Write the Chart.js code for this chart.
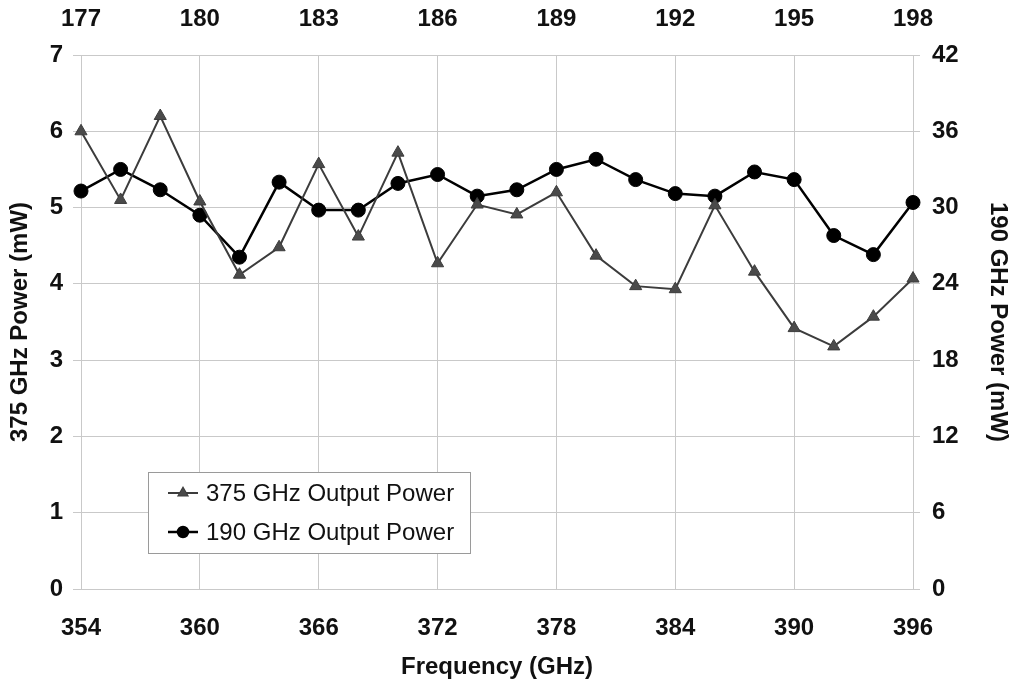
<!DOCTYPE html>
<html>
<head>
<meta charset="utf-8">
<script src="https://cdn.jsdelivr.net/npm/chart.js@4"></script>
<style>
    body { margin: 0; background: #fff; }
    #wrap { width: 1014px; height: 688px; }
</style>
</head>
<body>
<div id="wrap"><canvas id="powerChart" width="1014" height="688"></canvas></div>
<script>
// bottom axis: 375 GHz output frequency, top axis: 190 GHz drive frequency
const freq375 = [354, 356, 358, 360, 362, 364, 366, 368, 370, 372, 374, 376, 378, 380, 382, 384, 386, 388, 390, 392, 394, 396];
const power375 = [6.0, 5.1, 6.2, 5.08, 4.12, 4.48, 5.57, 4.62, 5.72, 4.27, 5.04, 4.91, 5.2, 4.37, 3.97, 3.93, 5.03, 4.16, 3.42, 3.18, 3.57, 4.07];

const freq190 = [177, 178, 179, 180, 181, 182, 183, 184, 185, 186, 187, 188, 189, 190, 191, 192, 193, 194, 195, 196, 197, 198];
const power190 = [31.3, 33.0, 31.4, 29.4, 26.1, 32.0, 29.8, 29.8, 31.9, 32.6, 30.9, 31.4, 33.0, 33.8, 32.2, 31.1, 30.9, 32.8, 32.2, 27.8, 26.3, 30.4];

const seriesLabels = ['375 GHz Output Power', '190 GHz Output Power'];

const tickFont = { family: 'Liberation Sans, Arial, sans-serif', size: 24, weight: 'bold' };
const titleFont = { family: 'Liberation Sans, Arial, sans-serif', size: 24, weight: 'bold' };
const gridColor = '#c9c9c9';

// legend drawn inside the plot, lower left
const boxLegend = {
    id: 'boxLegend',
    afterDraw(chart) {
        const ctx = chart.ctx;
        const x = 148, y = 472, w = 322, h = 81;
        ctx.save();
        ctx.fillStyle = '#fff';
        ctx.fillRect(x, y, w, h);
        ctx.strokeStyle = '#9a9a9a';
        ctx.lineWidth = 1;
        ctx.strokeRect(x + 0.5, y + 0.5, w, h);
        ctx.font = '24px "Liberation Sans", Arial, sans-serif';
        ctx.textBaseline = 'middle';
        chart.data.datasets.forEach((ds, i) => {
            const cy = y + 21 + i * 39;
            ctx.strokeStyle = ds.borderColor;
            ctx.lineWidth = ds.borderWidth;
            ctx.beginPath();
            ctx.moveTo(x + 20, cy);
            ctx.lineTo(x + 50, cy);
            ctx.stroke();
            Chart.helpers.drawPoint(ctx, {
                pointStyle: ds.pointStyle,
                radius: ds.pointRadius - 2,
                borderWidth: 1
            }, x + 35, cy);
            ctx.fillStyle = ds.pointBackgroundColor;
            ctx.fill();
            ctx.fillStyle = '#111';
            ctx.fillText(ds.label, x + 58, cy + 1);
        });
        ctx.restore();
    }
};

new Chart(document.getElementById('powerChart'), {
    type: 'line',
    data: {
        datasets: [
            {
                label: seriesLabels[0],
                data: freq375.map((f, i) => ({ x: f, y: power375[i] })),
                xAxisID: 'x',
                yAxisID: 'y',
                borderColor: '#3c3c3c',
                borderWidth: 2,
                pointStyle: 'triangle',
                pointRadius: 7,
                pointBackgroundColor: '#4a4a4a',
                pointBorderColor: '#3c3c3c',
                pointBorderWidth: 1,
                tension: 0,
                clip: false
            },
            {
                label: seriesLabels[1],
                data: freq190.map((f, i) => ({ x: f, y: power190[i] })),
                xAxisID: 'x2',
                yAxisID: 'y2',
                borderColor: '#000',
                borderWidth: 2.5,
                pointStyle: 'circle',
                pointRadius: 7,
                pointBackgroundColor: '#000',
                pointBorderColor: '#000',
                pointBorderWidth: 1,
                tension: 0,
                clip: false
            }
        ]
    },
    options: {
        responsive: false,
        animation: false,
        layout: { padding: 0 },
        plugins: {
            legend: { display: false },
            tooltip: { enabled: false }
        },
        scales: {
            x: {
                type: 'linear',
                position: 'bottom',
                min: 354, max: 396,
                ticks: { stepSize: 6, color: '#111', font: tickFont, padding: 25, maxRotation: 0 },
                grid: { color: gridColor, drawTicks: false },
                border: { display: false },
                title: { display: true, text: 'Frequency (GHz)', color: '#111', font: titleFont, padding: { top: 0, bottom: 6 } },
                afterFit: (s) => { s.height = 99; }
            },
            x2: {
                type: 'linear',
                position: 'top',
                min: 177, max: 198,
                ticks: { stepSize: 3, color: '#111', font: tickFont, padding: 13, maxRotation: 0 },
                grid: { display: false },
                border: { display: false },
                afterFit: (s) => { s.height = 55; }
            },
            y: {
                position: 'left',
                min: 0, max: 7,
                ticks: { stepSize: 1, color: '#111', font: tickFont, padding: 10 },
                grid: { color: gridColor, tickLength: 8 },
                border: { display: false },
                title: { display: true, text: '375 GHz Power (mW)', color: '#111', font: titleFont, padding: { top: 6, bottom: 0 } },
                afterFit: (s) => { s.width = 81; }
            },
            y2: {
                position: 'right',
                min: 0, max: 42,
                ticks: { stepSize: 6, color: '#111', font: tickFont, padding: 12 },
                grid: { drawOnChartArea: false, color: gridColor, tickLength: 7 },
                border: { display: false },
                title: { display: true, text: '190 GHz Power (mW)', color: '#111', font: titleFont, padding: { top: 2, bottom: 0 } },
                afterFit: (s) => { s.width = 101; }
            }
        }
    },
    plugins: [boxLegend]
});
</script>
</body>
</html>
